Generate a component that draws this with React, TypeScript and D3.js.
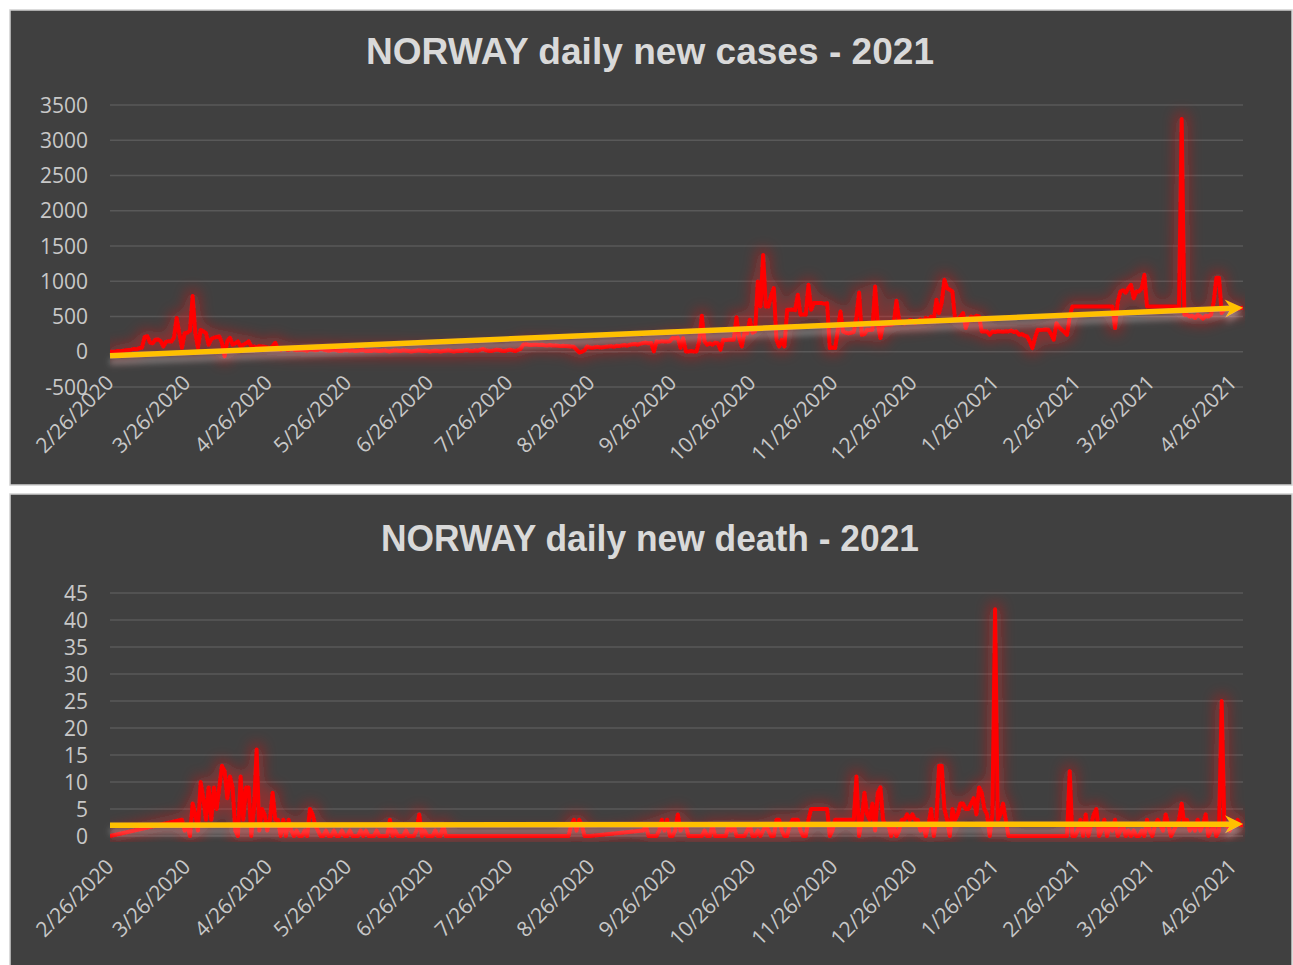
import React from "react";
import * as d3 from "d3";

// ---------- data ----------
const xTickLabels = [
  "2/26/2020", "3/26/2020", "4/26/2020", "5/26/2020", "6/26/2020", "7/26/2020",
  "8/26/2020", "9/26/2020", "10/26/2020", "11/26/2020", "12/26/2020",
  "1/26/2021", "2/26/2021", "3/26/2021", "4/26/2021",
];
const casesYTicks = [-500, 0, 500, 1000, 1500, 2000, 2500, 3000, 3500];
const deathsYTicks = [0, 5, 10, 15, 20, 25, 30, 35, 40, 45];
const casesTrend = [-57, 623];
const deathsTrend = [2.0, 2.2];

// daily values from 2/26/2020 (index 0) to 4/26/2021 (index 425)
const dailyCases: number[] = [
  0, 1, 5, 10, 8, 15, 20, 25, 30, 40,
  35, 50, 60, 210, 220, 130, 120, 170, 175, 150,
  75, 140, 150, 145, 200, 480, 260, 56, 264, 270,
  300, 790, 264, 56, 310, 290, 264, 99, 180, 200,
  210, 217, 127, -66, 150, 198, 99, 120, 146, 75,
  100, 120, 146, 75, 75, 60, 80, 75, 70, 60,
  50, 80, 127, 40, 30, 50, 35, 25, 40, 30,
  20, 25, 30, 20, 15, 35, 30, 20, 25, 40,
  30, 20, 15, 25, 30, 20, 10, 15, 25, 20,
  15, 20, 10, 15, 20, 25, 10, 15, 10, 20,
  15, 10, 15, 20, 10, 5, 15, 20, 15, 10,
  20, 15, 10, 5, 10, 15, 20, 10, 15, 10,
  5, 10, 15, 10, 5, 10, 15, 20, 10, 5,
  10, 15, 10, 20, 25, 15, 10, 20, 15, 30,
  40, 20, 15, 10, 20, 30, 25, 15, 10, 20,
  30, 20, 10, 25, 40, 100, 105, 100, 95, 100,
  98, 95, 100, 92, 90, 95, 88, 90, 85, 80,
  85, 80, 78, 75, 70, 30, -10, 0, 20, 75,
  60, 55, 65, 70, 60, 65, 70, 75, 80, 70,
  85, 80, 90, 95, 85, 100, 105, 110, 100, 115,
  123, 130, 120, 125, 5, 146, 140, 150, 146, 145,
  150, 194, 190, 200, 57, 194, 5, 5, 10, 5,
  5, 150, 510, 150, 100, 120, 100, 130, 120, 28,
  170, 165, 170, 175, 170, 490, 200, 75, 270, 260,
  453, 270, 288, 997, 642, 1374, 642, 642, 800, 902,
  170, 75, 170, 75, 595, 595, 600, 590, 808, 524,
  530, 524, 949, 595, 690, 690, 690, 690, 680, 690,
  52, 60, 52, 300, 571, 288, 270, 260, 270, 280,
  500, 840, 241, 250, 312, 310, 312, 926, 400, 194,
  383, 380, 390, 383, 400, 722, 450, 430, 400, 420,
  450, 440, 410, 430, 460, 420, 480, 453, 500, 453,
  737, 548, 700, 1020, 902, 880, 855, 453, 453, 500,
  548, 336, 450, 500, 480, 510, 500, 288, 290, 288,
  241, 288, 280, 290, 288, 285, 290, 288, 300, 280,
  288, 241, 250, 230, 217, 150, 52, 200, 312, 310,
  312, 315, 312, 250, 170, 405, 350, 312, 280, 241,
  500, 642, 642, 642, 642, 642, 642, 642, 642, 642,
  642, 642, 642, 642, 642, 642, 642, 336, 700, 855,
  872, 838, 900, 949, 760, 855, 855, 900, 1091, 642,
  642, 642, 642, 642, 642, 642, 642, 642, 642, 642,
  642, 642, 3300, 524, 524, 500, 510, 480, 524, 500,
  470, 510, 500, 524, 700, 1048, 1050, 548, 600, 610,
  620, 600, 630, 610, 620, 625,
];

const dailyDeaths: (number | null)[] = [
  0, null, null, null, null, null, null, null, null, null,
  null, null, null, null, null, null, null, null, null, null,
  null, null, null, null, null, null, null, 3, 1, 2,
  0, 6, 4, 1, 10, 7, 3, 9, 3, 9,
  5, 9, 13, 12, 7, 11, 9, 1, 0, 11,
  3, 9, 9, 0, 5, 16, 1, 5, 4, 1,
  3, 8, 3, 3, 0, 3, 0, 3, 1, 0,
  1, 0, 0, 1, 0, 5, 4, 2, 1, 0,
  0, 1, 0, 0, 1, 0, 0, 1, 0, 0,
  1, 0, 0, 0, 1, 0, 1, 0, 0, 0,
  1, 0, 0, 0, 0, 3, 0, 1, 0, 0,
  0, 1, 0, 0, 0, 1, 4, 0, 1, 0,
  0, 0, 1, 0, 0, 2, 0, 0, 0, 0,
  0, 0, 0, 0, 0, 0, 0, 0, 0, 0,
  0, 0, 0, 0, 0, 0, 0, 0, 0, 0,
  0, 0, 0, 0, 0, 0, 0, 0, 0, 0,
  0, 0, 0, 0, 0, 0, 0, 0, 0, 0,
  0, 0, 0, 2, 3, 1, 3, 2, 0, 0,
  0, null, null, null, null, null, null, null, null, null,
  null, null, null, null, null, null, null, null, null, null,
  1, 2, 0, 0, 0, 0, 1, 3, 1, 3,
  0, 0, 1, 4, 1, 2, 2, 0, 0, 0,
  0, 0, 0, 1, 0, 0, 2, 0, 0, 0,
  0, 0, 2, 1, 2, 0, 0, 0, 0, 1,
  2, 0, 0, 1, 0, 1, 2, 1, 0, 0,
  3, 3, 1, 0, 0, 2, 3, 3, 3, 1,
  0, 0, 3, 5, 5, 5, 5, 5, 5, 5,
  0, 1, 3, 3, 3, 3, 3, 3, 3, 3,
  11, 0, 3, 8, 4, 3, 6, 1, 8, 9,
  3, 2, 2, 0, 2, 0, 1, 3, 3, 4,
  3, 4, 3, 3, 1, 2, 0, 2, 5, 0,
  3, 13, 13, 5, 3, 0, 5, 3, 4, 6,
  6, 5, 5, 6, 7, 4, 9, 8, 5, 4,
  0, 4, 42, 3, 4, 6, 3, 0, 0, 0,
  0, 0, 0, 0, 0, 0, 0, 0, 0, 0,
  0, 0, 0, 0, 0, 0, 0, 0, 0, 0,
  12, 0, 0, 1, 3, 0, 4, 0, 2, 4,
  5, 0, 1, 3, 0, 2, 1, 3, 0, 1,
  2, 0, 1, 0, 1, 0, 0, 1, 0, 3,
  1, 0, 2, 3, 2, 1, 4, 2, 0, 1,
  2, 3, 6, 2, 3, 1, 2, 1, 3, 1,
  2, 4, 0, 1, 2, 0, 1, 25, 2, 2,
  1, 2, 2, 3, 2, 2,
];

// ---------- helpers ----------
const W = 1293;
const H = 965;
const FONT = "'Open Sans', 'Liberation Sans', sans-serif";
const TITLE_FONT = "'Liberation Sans', Arial, sans-serif";

function dayDate(i: number): Date {
  return new Date(2020, 1, 26 + i);
}
function parseLabel(s: string): Date {
  const [m, d, y] = s.split("/").map(Number);
  return new Date(y, m - 1, d);
}

const xScale = d3
  .scaleTime()
  .domain([dayDate(0), dayDate(425)])
  .range([110, 1243]);

// label anchors sit on a slightly narrower span than the plot
const labelScale = d3
  .scaleTime()
  .domain([dayDate(0), dayDate(425)])
  .range([115, 1238]);

type PanelProps = {
  id: string;
  boxTop: number;
  boxBottom: number;
  title: string;
  titleY: number;
  titleLen: number;
  values: (number | null)[];
  yTicks: number[];
  yDomain: [number, number];
  yRange: [number, number];
  trend: number[];
  xLabelY: number;
  clipBottom: number;
};

function Panel(p: PanelProps) {
  const y = d3.scaleLinear().domain(p.yDomain).range(p.yRange);
  const pts = p.values
    .map((v, i) => ({ d: dayDate(i), v }))
    .filter((o) => o.v !== null) as { d: Date; v: number }[];
  const line = d3
    .line<{ d: Date; v: number }>()
    .x((o) => xScale(o.d))
    .y((o) => y(o.v))
    .curve(d3.curveLinear);

  const n = p.values.length - 1;
  const x0 = xScale(dayDate(0));
  const x1 = xScale(dayDate(n));
  const y0 = y(p.trend[0]);
  const y1 = y(p.trend[1]);
  const ang = Math.atan2(y1 - y0, x1 - x0);
  const ux = Math.cos(ang);
  const uy = Math.sin(ang);
  const px = -uy;
  const py = ux;
  const L = 18;
  const HW = 9;
  const notch = 6;
  const bx = x1 - ux * L;
  const by = y1 - uy * L;
  const arrow = `M${x1},${y1} L${bx + px * HW},${by + py * HW} L${x1 - ux * (L - notch)},${y1 - uy * (L - notch)} L${bx - px * HW},${by - py * HW} Z`;
  const lineEndX = x1 - ux * (L - notch - 1);
  const lineEndY = y1 - uy * (L - notch - 1);

  const top = Math.min(...p.yRange);
  return (
    <g>
      <rect
        x={10}
        y={p.boxTop}
        width={1282}
        height={p.boxBottom - p.boxTop}
        fill="#404040"
        stroke="#d0d0d0"
        strokeWidth={1.5}
      />
      <text
        x={650}
        y={p.titleY}
        textAnchor="middle"
        fill="#d9d9d9"
        fontFamily={TITLE_FONT}
        fontWeight="bold"
        fontSize={36}
        textLength={p.titleLen}
        lengthAdjust="spacingAndGlyphs"
      >
        {p.title}
      </text>
      <defs>
        <clipPath id={`clip-${p.id}`}>
          <rect x={110} y={top - 14} width={1135} height={p.clipBottom - top + 14} />
        </clipPath>
      </defs>
      {p.yTicks.map((t) => (
        <g key={t}>
          <line x1={110} x2={1243} y1={y(t)} y2={y(t)} stroke="#595959" strokeWidth={1.5} />
          <text
            x={88}
            y={y(t) + 7.5}
            textAnchor="end"
            fill="#c8c8c8"
            fontFamily={FONT}
            fontSize={21}
          >
            {t}
          </text>
        </g>
      ))}
      {xTickLabels.map((s) => {
        const tx = labelScale(parseLabel(s));
        return (
          <text
            key={s}
            transform={`translate(${tx},${p.xLabelY}) rotate(-45)`}
            textAnchor="end"
            fill="#c8c8c8"
            fontFamily={FONT}
            fontSize={21}
          >
            {s}
          </text>
        );
      })}
      <g clipPath={`url(#clip-${p.id})`}>
        <path
          d={line(pts) || ""}
          fill="none"
          stroke="#ff0000"
          strokeWidth={4}
          strokeLinejoin="round"
          filter="url(#redGlow)"
        />
      </g>
      <g filter="url(#trendShadow)">
        <line
          x1={x0}
          y1={y0}
          x2={lineEndX}
          y2={lineEndY}
          stroke="#ffc000"
          strokeWidth={5.5}
        />
        <path d={arrow} fill="#ffc000" />
      </g>
    </g>
  );
}

export default function App() {
  return (
    <svg
      width={W}
      height={H}
      style={{ position: "absolute", left: 0, top: 0, background: "#ffffff" }}
    >
      <defs>
        <filter id="redGlow" filterUnits="userSpaceOnUse" x={0} y={0} width={W} height={H}>
          <feMorphology in="SourceAlpha" operator="dilate" radius={4} result="dil" />
          <feGaussianBlur in="dil" stdDeviation={7} result="blur" />
          <feFlood floodColor="#ff1a1a" floodOpacity={0.4} />
          <feComposite in2="blur" operator="in" result="glow" />
          <feMerge>
            <feMergeNode in="glow" />
            <feMergeNode in="SourceGraphic" />
          </feMerge>
        </filter>
        <filter id="trendShadow" filterUnits="userSpaceOnUse" x={0} y={0} width={W} height={H}>
          <feGaussianBlur in="SourceAlpha" stdDeviation={3} result="b" />
          <feOffset in="b" dy={6} result="o" />
          <feFlood floodColor="#ffffff" floodOpacity={0.35} />
          <feComposite in2="o" operator="in" result="s" />
          <feMerge>
            <feMergeNode in="s" />
            <feMergeNode in="SourceGraphic" />
          </feMerge>
        </filter>
      </defs>
      <rect x={0} y={0} width={W} height={H} fill="#ffffff" />
      <Panel
        id="cases"
        boxTop={10}
        boxBottom={485}
        title="NORWAY daily new cases - 2021"
        titleY={64}
        titleLen={568}
        values={dailyCases}
        yTicks={casesYTicks}
        yDomain={[-500, 3500]}
        yRange={[387, 105]}
        trend={casesTrend}
        xLabelY={384}
        clipBottom={387}
      />
      <Panel
        id="deaths"
        boxTop={494}
        boxBottom={976}
        title="NORWAY daily new death - 2021"
        titleY={551}
        titleLen={538}
        values={dailyDeaths}
        yTicks={deathsYTicks}
        yDomain={[0, 45]}
        yRange={[836, 593]}
        trend={deathsTrend}
        xLabelY={868}
        clipBottom={842}
      />
    </svg>
  );
}
